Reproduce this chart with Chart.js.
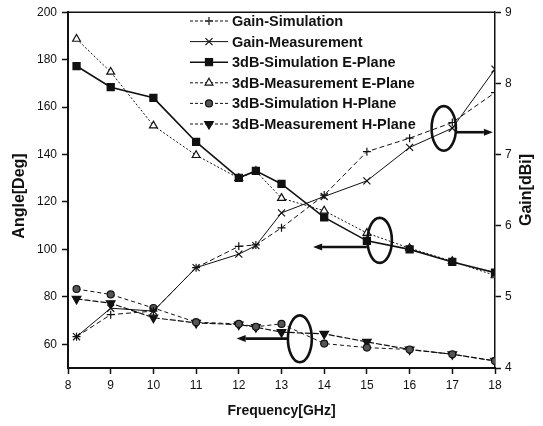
<!DOCTYPE html>
<html><head><meta charset="utf-8">
<script src="https://cdn.jsdelivr.net/npm/chart.js@4/dist/chart.umd.min.js"></script>
<style>html,body{margin:0;padding:0;background:#fff;}#wrap{width:543px;height:426px;}</style>
</head><body><div id="wrap"><canvas id="c" width="543" height="426"></canvas></div>
<script>
// ---- data ----
const frequencies = [8.2, 9, 10, 11, 12, 12.4, 13, 14, 15, 16, 17, 18];
const gainSimulation  = [4.44, 4.75, 4.80, 5.41, 5.71, 5.73, 5.97, 6.43, 7.04, 7.23, 7.45, 7.87];
const gainMeasurement = [4.44, 4.84, 4.80, 5.41, 5.60, 5.72, 6.18, 6.41, 6.63, 7.10, 7.37, 8.20];
const simEPlane  = [177.3, 168.4, 163.9, 145.3, 130.2, 133.1, 127.6, 113.5, 103.6, 100.0, 94.7, 90.2];
const measEPlane = [188.7, 174.8, 152.2, 139.7, 130.0, 133.0, 121.6, 116.3, 106.9, 100.5, 95.0, 89.0];
const simHPlane  = [83.3, 81.0, 75.3, 69.3, 68.6, 67.4, 68.6, 60.3, 58.6, 57.8, 55.8, 53.0];
const measHPlane = [79.1, 77.3, 71.2, 69.0, 68.3, 67.2, 65.1, 64.4, 61.0, 57.8, 55.8, 53.0];
const seriesNames = ['Gain-Simulation','Gain-Measurement','3dB-Simulation E-Plane','3dB-Measurement E-Plane','3dB-Simulation H-Plane','3dB-Measurement H-Plane'];
const freqTicks  = [8, 9, 10, 11, 12, 13, 14, 15, 16, 17, 18];
const angleTicks = [60, 80, 100, 120, 140, 160, 180, 200];
const gainTicks  = [4, 5, 6, 7, 8, 9];
const xTitle = 'Frequency[GHz]';
const yTitle = 'Angle[Deg]';
const y2Title = 'Gain[dBi]';

// annotation shapes, in data units (frequency, angle)
const ellipses = [
  {x: 16.80, y: 151.0, rx: 0.285, ry: 9.4},
  {x: 15.30, y: 103.8, rx: 0.285, ry: 9.5},
  {x: 13.43, y: 62.3,  rx: 0.28,  ry: 9.9}
];
const arrows = [
  {x1: 17.09, y1: 149.4, x2: 17.95, y2: 149.4},
  {x1: 15.00, y1: 101.0, x2: 13.74, y2: 101.0},
  {x1: 13.16, y1: 62.4,  x2: 11.95, y2: 62.4}
];

const pts = (ys) => frequencies.map((f, i) => ({x: f, y: ys[i]}));
const INK = '#111';
const FAMILY = '"Liberation Sans", Arial, sans-serif';

const styles = [
  {pointStyle: 'cross',    radius: 4,   dash: [5, 3], width: 1,   fill: INK,   rot: 0},
  {pointStyle: 'crossRot', radius: 5,   dash: [],     width: 1,   fill: INK,   rot: 0},
  {pointStyle: 'rect',     radius: 5,   dash: [],     width: 1.6, fill: INK,   rot: 0},
  {pointStyle: 'triangle', radius: 4.5, dash: [2, 2], width: 1,   fill: '#fff',rot: 0},
  {pointStyle: 'circle',   radius: 3.5, dash: [4, 3], width: 1,   fill: '#555',rot: 0},
  {pointStyle: 'triangle', radius: 5,   dash: [6, 2], width: 1.2, fill: INK,   rot: 180}
];
const seriesData = [gainSimulation, gainMeasurement, simEPlane, measEPlane, simHPlane, measHPlane];
const axisFor = ['y2', 'y2', 'y', 'y', 'y', 'y'];

const datasets = seriesData.map((d, i) => ({
  label: seriesNames[i],
  data: pts(d),
  yAxisID: axisFor[i],
  borderColor: INK,
  borderWidth: styles[i].width,
  borderDash: styles[i].dash,
  pointStyle: styles[i].pointStyle,
  pointRadius: styles[i].radius,
  pointRotation: styles[i].rot,
  pointBackgroundColor: styles[i].fill,
  pointBorderColor: INK,
  pointBorderWidth: 1.2,
  tension: 0,
  fill: false
}));

function drawMarker(ctx, st, x, y) {
  ctx.save();
  ctx.setLineDash([]);
  ctx.lineWidth = 1.2;
  ctx.strokeStyle = INK;
  ctx.fillStyle = st.fill;
  const r = st.radius;
  ctx.translate(x, y);
  ctx.rotate(st.rot * Math.PI / 180);
  ctx.beginPath();
  if (st.pointStyle === 'cross') {
    ctx.moveTo(-r, 0); ctx.lineTo(r, 0); ctx.moveTo(0, -r); ctx.lineTo(0, r); ctx.stroke();
  } else if (st.pointStyle === 'crossRot') {
    const s = r * Math.SQRT1_2;
    ctx.moveTo(-s, -s); ctx.lineTo(s, s); ctx.moveTo(-s, s); ctx.lineTo(s, -s); ctx.stroke();
  } else if (st.pointStyle === 'rect') {
    const s = r * Math.SQRT1_2;
    ctx.rect(-s, -s, 2 * s, 2 * s); ctx.fill(); ctx.stroke();
  } else if (st.pointStyle === 'triangle') {
    ctx.moveTo(0, -r);
    ctx.lineTo(r * Math.cos(Math.PI / 6), r * 0.5);
    ctx.lineTo(-r * Math.cos(Math.PI / 6), r * 0.5);
    ctx.closePath(); ctx.fill(); ctx.stroke();
  } else if (st.pointStyle === 'circle') {
    ctx.arc(0, 0, r, 0, Math.PI * 2); ctx.fill(); ctx.stroke();
  }
  ctx.restore();
}

function verticalTitle(ctx, text, x, y) {
  ctx.save();
  ctx.translate(x, y);
  ctx.rotate(-Math.PI / 2);
  ctx.font = 'bold 16px ' + FAMILY;
  ctx.fillStyle = INK;
  ctx.textAlign = 'center';
  ctx.textBaseline = 'middle';
  ctx.fillText(text, 0, 0);
  ctx.restore();
}

const extras = {
  id: 'extras',
  afterDatasetsDraw(chart) {
    const ctx = chart.ctx;
    const xs = chart.scales.x, ys = chart.scales.y;
    const a = chart.chartArea;
    ctx.save();
    // top frame line
    ctx.strokeStyle = INK;
    ctx.lineWidth = 1.5;
    ctx.beginPath();
    ctx.moveTo(a.left, a.top); ctx.lineTo(a.right, a.top);
    ctx.stroke();
    // ellipses
    ctx.lineWidth = 2.6;
    ellipses.forEach(e => {
      const cx = xs.getPixelForValue(e.x), cy = ys.getPixelForValue(e.y);
      const rx = Math.abs(xs.getPixelForValue(e.x + e.rx) - cx);
      const ry = Math.abs(ys.getPixelForValue(e.y + e.ry) - cy);
      ctx.beginPath();
      ctx.ellipse(cx, cy, rx, ry, 0, 0, Math.PI * 2);
      ctx.stroke();
    });
    // arrows
    arrows.forEach(ar => {
      const x1 = xs.getPixelForValue(ar.x1), y1 = ys.getPixelForValue(ar.y1);
      const x2 = xs.getPixelForValue(ar.x2), y2 = ys.getPixelForValue(ar.y2);
      const ang = Math.atan2(y2 - y1, x2 - x1);
      const hl = 9, hw = 3.5;
      const bx = x2 - hl * Math.cos(ang), by = y2 - hl * Math.sin(ang);
      ctx.lineWidth = 2.6;
      ctx.beginPath(); ctx.moveTo(x1, y1); ctx.lineTo(bx, by); ctx.stroke();
      ctx.fillStyle = INK;
      ctx.beginPath();
      ctx.moveTo(x2, y2);
      ctx.lineTo(bx + hw * Math.sin(ang), by - hw * Math.cos(ang));
      ctx.lineTo(bx - hw * Math.sin(ang), by + hw * Math.cos(ang));
      ctx.closePath(); ctx.fill();
    });
    // legend
    ctx.font = 'bold 14.5px ' + FAMILY;
    ctx.textBaseline = 'middle';
    ctx.textAlign = 'left';
    seriesNames.forEach((name, i) => {
      const yy = 21 + i * 20.6;
      const st = styles[i];
      ctx.save();
      ctx.strokeStyle = INK;
      ctx.lineWidth = st.width;
      ctx.setLineDash(st.dash.length ? [3, 2] : []);
      ctx.beginPath(); ctx.moveTo(190, yy); ctx.lineTo(228, yy); ctx.stroke();
      ctx.restore();
      drawMarker(ctx, st, 209, yy);
      ctx.fillStyle = INK;
      ctx.fillText(name, 232, yy + 1);
    });
    // axis titles on the sides (both read bottom to top)
    verticalTitle(ctx, yTitle, 20, 196);
    verticalTitle(ctx, y2Title, 527, 190);
    ctx.restore();
  }
};

const tickFont = {family: FAMILY, size: 12};
const titleFont = {family: FAMILY, size: 14, weight: 'bold'};

new Chart(document.getElementById('c'), {
  type: 'line',
  data: {datasets},
  options: {
    responsive: false,
    animation: false,
    layout: {padding: {top: 9, left: 0, right: 0, bottom: 0}},
    plugins: {legend: {display: false}, tooltip: {enabled: false}},
    scales: {
      x: {
        type: 'linear', min: 8, max: 18,
        afterBuildTicks: s => { s.ticks = freqTicks.map(v => ({value: v})); },
        afterFit: s => { s.height = 58; },
        ticks: {font: tickFont, color: INK, padding: 4, maxRotation: 0, autoSkip: false},
        grid: {drawOnChartArea: false, drawTicks: true, tickLength: 6, tickColor: INK, tickWidth: 1.5},
        border: {display: true, color: INK, width: 2},
        title: {display: true, text: xTitle, font: titleFont, color: INK, padding: {top: 0, bottom: 6}}
      },
      y: {
        type: 'linear', position: 'left', min: 50, max: 200,
        afterBuildTicks: s => { s.ticks = angleTicks.map(v => ({value: v})); },
        afterFit: s => { s.width = 68; },
        ticks: {font: tickFont, color: INK, padding: 5, autoSkip: false},
        grid: {drawOnChartArea: false, drawTicks: true, tickLength: 6, tickColor: INK, tickWidth: 1.5},
        border: {display: true, color: INK, width: 2}
      },
      y2: {
        type: 'linear', position: 'right', min: 4, max: 9,
        afterBuildTicks: s => { s.ticks = gainTicks.map(v => ({value: v})); },
        afterFit: s => { s.width = 48; },
        ticks: {font: tickFont, color: INK, padding: 4, autoSkip: false},
        grid: {drawOnChartArea: false, drawTicks: true, tickLength: 6, tickColor: INK, tickWidth: 1.5},
        border: {display: true, color: INK, width: 1.5}
      }
    }
  },
  plugins: [extras]
});
</script>
</body></html>
